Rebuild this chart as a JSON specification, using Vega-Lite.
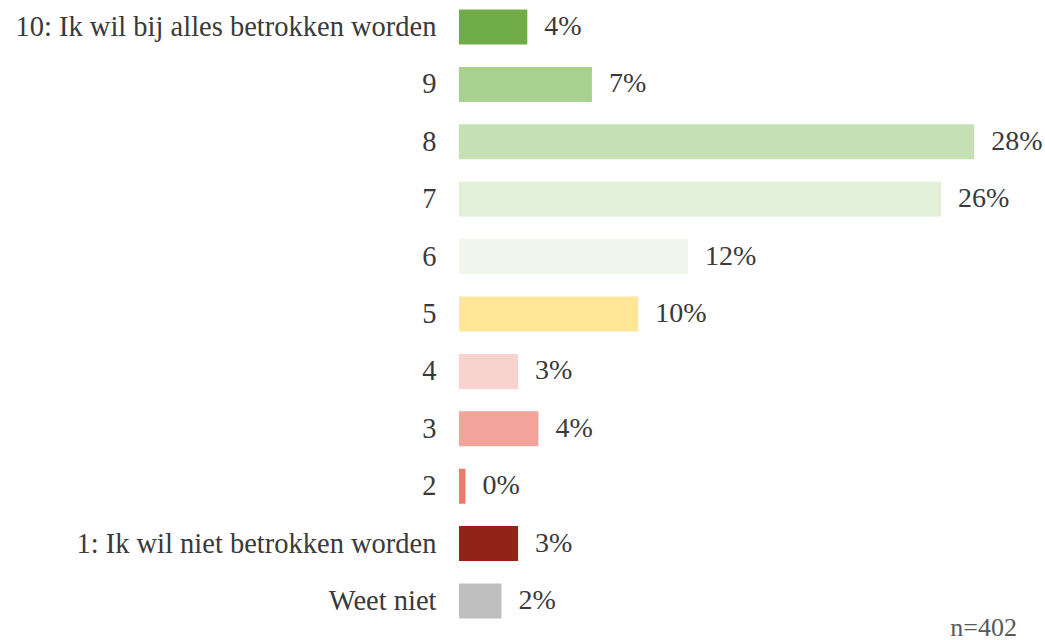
{
  "$schema": "https://vega.github.io/schema/vega-lite/v6.json",
  "autosize": "none",
  "width": 554,
  "height": 628,
  "padding": {"left": 459, "top": 0, "right": 32, "bottom": 12},
  "background": "white",
  "config": {"view": {"stroke": null}, "font": "Times New Roman"},
  "data": {
    "values": [
      {"cat": "10: Ik wil bij alles betrokken worden", "pct": 3.7, "label": "4%"},
      {"cat": "9", "pct": 7.2, "label": "7%"},
      {"cat": "8", "pct": 27.9, "label": "28%"},
      {"cat": "7", "pct": 26.1, "label": "26%"},
      {"cat": "6", "pct": 12.4, "label": "12%"},
      {"cat": "5", "pct": 9.7, "label": "10%"},
      {"cat": "4", "pct": 3.2, "label": "3%"},
      {"cat": "3", "pct": 4.3, "label": "4%"},
      {"cat": "2", "pct": 0.35, "label": "0%"},
      {"cat": "1: Ik wil niet betrokken worden", "pct": 3.2, "label": "3%"},
      {"cat": "Weet niet", "pct": 2.3, "label": "2%"}
    ]
  },
  "title": {
    "text": "n=402",
    "orient": "bottom",
    "anchor": "end",
    "frame": "group",
    "fontSize": 26,
    "fontWeight": "normal",
    "font": "Times New Roman",
    "color": "#595959",
    "baseline": "alphabetic",
    "offset": 8,
    "dx": 4
  },
  "encoding": {
    "y": {
      "field": "cat",
      "type": "nominal",
      "sort": null,
      "scale": {"paddingInner": 0.39, "paddingOuter": 0.165},
      "axis": {
        "title": null,
        "domain": false,
        "ticks": false,
        "labelPadding": 23,
        "labelFontSize": 28.5,
        "labelFont": "Times New Roman",
        "labelColor": "#3a3a3a",
        "labelLimit": 0
      }
    },
    "x": {
      "field": "pct",
      "type": "quantitative",
      "scale": {"domain": [0, 30], "nice": false},
      "axis": null
    }
  },
  "layer": [
    {
      "mark": {"type": "bar"},
      "encoding": {
        "color": {
          "field": "cat",
          "type": "nominal",
          "legend": null,
          "scale": {
            "domain": ["10: Ik wil bij alles betrokken worden", "9", "8", "7", "6", "5", "4", "3", "2", "1: Ik wil niet betrokken worden", "Weet niet"],
            "range": ["#70AD47", "#A9D18E", "#C5E0B4", "#E2F0D9", "#F1F7ED", "#FFE699", "#F8D2CD", "#F2A49A", "#EC7A6B", "#922417", "#BFBFBF"]
          }
        }
      }
    },
    {
      "mark": {"type": "text", "align": "left", "baseline": "middle", "dx": 17, "fontSize": 28, "font": "Times New Roman", "color": "#3a3a3a"},
      "encoding": {"text": {"field": "label"}}
    }
  ]
}
